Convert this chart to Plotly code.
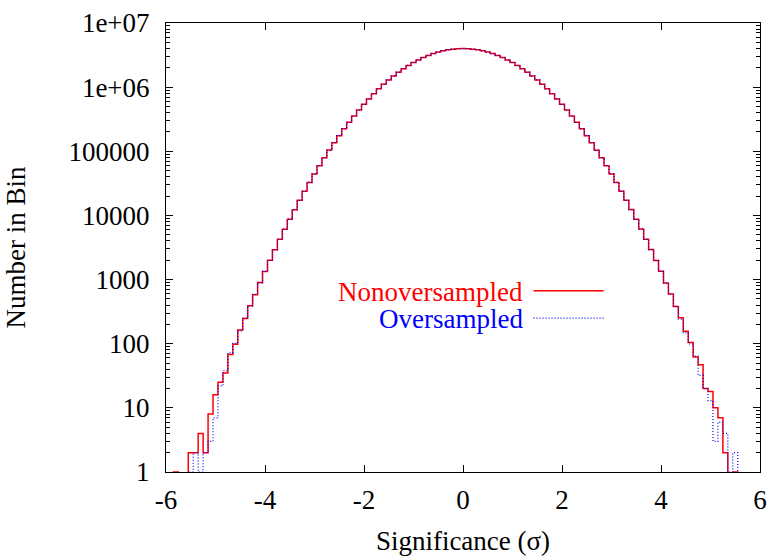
import numpy as np
import plotly.graph_objects as go

# Bin centres (sigma), bin width 0.1
bin_centers = [round(-6.0 + 0.1 * i, 1) for i in range(121)]

# Counts per bin (0 = empty bin)
nonoversampled = [
    0, 0, 1, 0, 0, 2, 2, 4, 2, 8,
    16, 25, 35, 68, 98, 163, 247, 391, 582, 897,
    1331, 1994, 2908, 4261, 6104, 8741, 12290, 17250, 23810, 32700,
    44280, 59560, 79080, 104300, 135700, 175400, 223800, 283300, 354600, 439900,
    539800, 656200, 789300, 940500, 1109000, 1295000, 1497000, 1714000, 1942000, 2178000,
    2420000, 2661000, 2897000, 3122000, 3332000, 3520000, 3682000, 3814000, 3910000, 3969000,
    3989000,
    3969000, 3910000, 3814000, 3682000, 3520000, 3332000, 3122000, 2897000, 2661000, 2420000,
    2178000, 1942000, 1714000, 1497000, 1295000, 1109000, 940300, 789500, 656000, 540100,
    439700, 354800, 283100, 223900, 175200, 135900, 104100, 79200, 59480, 44350,
    32640, 23870, 17190, 12340, 8702, 6131, 4236, 2931, 1979, 1345,
    884, 596, 380, 253, 157, 104, 62, 47, 20, 18,
    10, 7, 2, 0, 1, 0, 0, 0, 0, 0,
]

oversampled = [
    0, 0, 0, 0, 0, 1, 2, 1, 2, 3,
    7, 22, 38, 72, 101, 158, 251, 388, 590, 889,
    1340, 1987, 2915, 4255, 6111, 8733, 12300, 17240, 23830, 32680,
    44300, 59540, 79100, 104200, 135800, 175300, 223900, 283200, 354700, 439800,
    539900, 656100, 789400, 940400, 1109000, 1295000, 1497000, 1714000, 1942000, 2178000,
    2420000, 2661000, 2897000, 3122000, 3332000, 3520000, 3682000, 3814000, 3910000, 3969000,
    3989000,
    3969000, 3910000, 3814000, 3682000, 3520000, 3332000, 3122000, 2897000, 2661000, 2420000,
    2178000, 1942000, 1714000, 1497000, 1295000, 1109000, 940400, 789300, 656200, 539900,
    439800, 354700, 283200, 223800, 175300, 135800, 104200, 79150, 59500, 44320,
    32660, 23850, 17210, 12330, 8710, 6120, 4242, 2925, 1985, 1340,
    889, 590, 384, 241, 149, 99, 64, 32, 20, 13,
    3, 6, 4, 1, 2, 0, 0, 0, 0, 0,
]

series_names = ["Nonoversampled", "Oversampled"]
x_ticks = [-6, -4, -2, 0, 2, 4, 6]
x_ticktext = ["-6", "-4", "-2", "0", "2", "4", "6"]
y_ticks = [1, 10, 100, 1000, 10000, 100000, 1000000, 10000000]
y_ticktext = ["1", "10", "100", "1000", "10000", "100000", "1e+06", "1e+07"]

FONT = "Liberation Serif, Times New Roman, serif"
FS = 27


def step_xy(centers, counts, width=0.1):
    c = np.asarray(centers, dtype=float)
    v = np.asarray(counts, dtype=float)
    v = np.where(v > 0, v, 0.1)  # empty bins drop below the axis
    edges = np.append(c - width / 2, c[-1] + width / 2)
    vals = np.append(v, v[-1])
    return edges, vals


fig = go.Figure()
x1, y1 = step_xy(bin_centers, nonoversampled)
fig.add_trace(go.Scatter(x=x1, y=y1, mode="lines", line_shape="hv",
                         line=dict(color="#ff0000", width=1.5),
                         name=series_names[0], showlegend=False))
x2, y2 = step_xy(bin_centers, oversampled)
fig.add_trace(go.Scatter(x=x2, y=y2, mode="lines", line_shape="hv",
                         line=dict(color="#0000ff", width=1.2, dash="1px,2px"),
                         name=series_names[1], showlegend=False))

# legend (gnuplot style: text right-aligned, sample to the right)
def px_x(p):
    return (p - 166.5) / (767.7 - 166.5)


def px_y(p):
    return (476 - p) / (476 - 18)


legend_rows = [(series_names[0], "#ff0000", "solid", 1.5, 292),
               (series_names[1], "#0000ff", "1px,2px", 1.2, 320)]
for name, col, dash, w, py in legend_rows:
    fig.add_annotation(text=name, xref="paper", yref="paper", x=px_x(530), y=px_y(py),
                       xanchor="right", yanchor="middle", showarrow=False,
                       font=dict(family=FONT, size=FS, color=col))
    fig.add_shape(type="line", xref="paper", yref="paper",
                  x0=px_x(538.5), x1=px_x(609.5), y0=px_y(py - 1), y1=px_y(py - 1),
                  line=dict(color=col, width=w, dash=dash))

fig.update_layout(
    width=775, height=558,
    margin=dict(l=166, r=8, t=18, b=82),
    paper_bgcolor="white", plot_bgcolor="white",
    font=dict(family=FONT, size=FS, color="black"),
)
fig.update_xaxes(
    range=[-6, 6], tickvals=x_ticks, ticktext=x_ticktext,
    showline=True, linecolor="black", linewidth=1, mirror="ticks",
    ticks="inside", ticklen=7, tickcolor="black", showgrid=False, zeroline=False,
    ticklabelstandoff=4,
    title=dict(text="Significance (σ)", font=dict(family=FONT, size=FS), standoff=16),
)
fig.update_yaxes(
    type="log", range=[0, 7], tickvals=y_ticks, ticktext=y_ticktext,
    showline=True, linecolor="black", linewidth=1, mirror="ticks",
    ticks="inside", ticklen=7, tickcolor="black", showgrid=False, zeroline=False,
    minor=dict(ticks="inside", ticklen=4, tickcolor="black", dtick="D1", showgrid=False),
    ticklabelstandoff=10,
    title=dict(text="Number in Bin", font=dict(family=FONT, size=FS), standoff=35),
)

fig.write_html("out.html")
